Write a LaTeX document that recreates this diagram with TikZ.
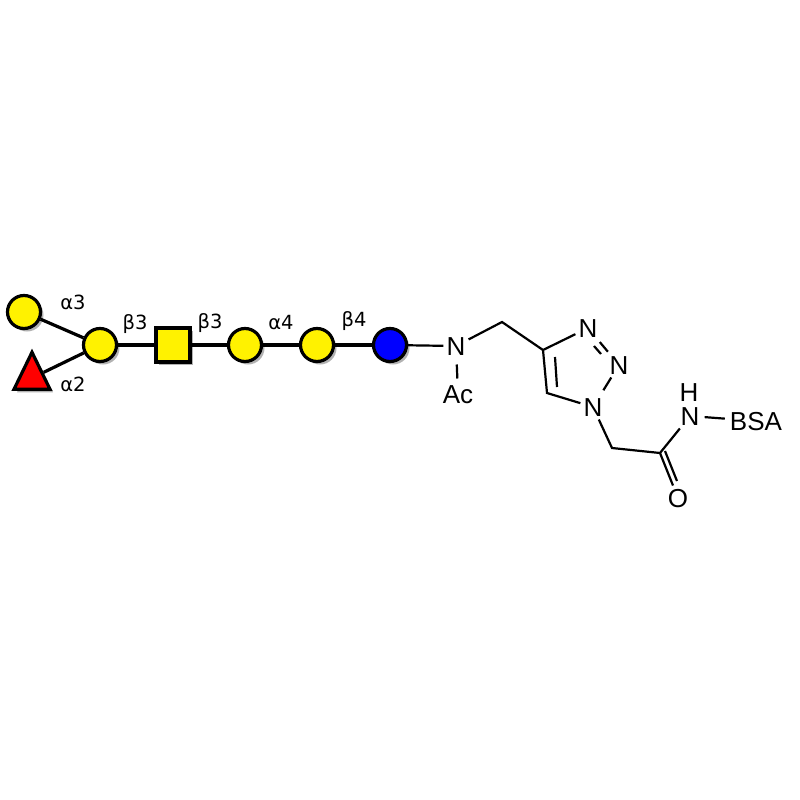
\documentclass[tikz,border=0pt]{standalone}
\usepackage{fontspec}
\newfontfamily\glyfont{DejaVu Sans}
\newfontfamily\chemfont{Liberation Sans}
\usetikzlibrary{shapes.geometric,shadows,backgrounds,calc}
\tikzset{
 sym/.style={draw=black, line width=3.2pt, inner sep=0pt,
   drop shadow={shadow xshift=3pt, shadow yshift=-3pt, opacity=0.3, fill=black}},
 gal/.style={sym, circle, fill=yellow, minimum size=33pt},
 glc/.style={sym, circle, fill=blue, minimum size=33pt},
 galnac/.style={sym, rectangle, fill=yellow, minimum size=34pt},
 fuc/.style={sym, isosceles triangle, isosceles triangle stretches, shape border rotate=90,
   fill=red, minimum width=36pt, minimum height=37pt},
 link/.style={line width=3.2pt},
 lab/.style={font=\glyfont\fontsize{19.5}{19.5}\selectfont, inner sep=0pt, text height=14pt, text depth=0pt},
 atom/.style={font=\chemfont\fontsize{26}{26}\selectfont, inner sep=3pt, text height=18.6pt, text depth=0pt},
 bond/.style={line width=2.2pt},
}
\begin{document}
\begin{tikzpicture}[x=1pt,y=-1pt]
\useasboundingbox (0,0) rectangle (800,800);
% glycan symbols
\node[gal] (g1) at (24,312) {};
\node[gal] (g2) at (100,345) {};
\node[fuc] (fuc) at (32,378) {};
\node[galnac] (gn) at (173,345) {};
\node[gal] (g3) at (245,345) {};
\node[gal] (g4) at (317,345) {};
\node[glc] (glc) at (390,345) {};
% linkage labels
\node[lab] (l1) at (73,302) {α3};
\node[lab] (l2) at (73,384) {α2};
\node[lab] (l3) at (135,322) {β3};
\node[lab] (l4) at (210,321) {β3};
\node[lab] (l5) at (281,322) {α4};
\node[lab] (l6) at (354,319) {β4};
% chemistry
\node[atom] (N) at (456,346) {N};
\node[atom] (Ac) at (458,394) {Ac};
\coordinate (m1) at (502,322);
\coordinate (c4) at (543,350);
\node[atom] (N3) at (588,328) {N};
\node[atom] (N2) at (619,365) {N};
\node[atom] (N1) at (593,407) {N};
\coordinate (c5) at (547,393);
\coordinate (m2) at (612,448);
\coordinate (cc) at (660,453);
\node[atom] (O) at (678,498) {O};
\node[atom] (NH) at (690,416) {N};
\node[atom] (H) at (689,392) {H};
\node[atom] (BSA) at (756,421) {BSA};
\begin{scope}[on background layer]
\draw[link] (g1) -- (g2);
\draw[link] (fuc) -- (g2);
\draw[link] (g2) -- (gn) -- (g3) -- (g4) -- (glc);
\end{scope}
\draw[bond] (glc) -- (N);
\draw[bond] (N) -- (m1) -- (c4) -- (N3);
\draw[bond, shorten <=6pt, shorten >=3pt] (N) -- (Ac);
\draw[bond, shorten <=2pt, shorten >=1pt] (N3) -- (N2);
\draw[bond] (594,346) -- (601,354);
\draw[bond, shorten >=5pt] (N2) -- (N1);
\draw[bond] (N1) -- (c5) -- (c4);
\draw[bond] (555,357) -- (557,387);
\draw[bond] (N1) -- (m2) -- (cc) -- (O);
\draw[bond] (665,451) -- (677,481);
\draw[bond] (cc) -- (NH);
\draw[bond, shorten <=2pt, shorten >=2pt] (NH) -- (BSA);
\end{tikzpicture}
\end{document}
